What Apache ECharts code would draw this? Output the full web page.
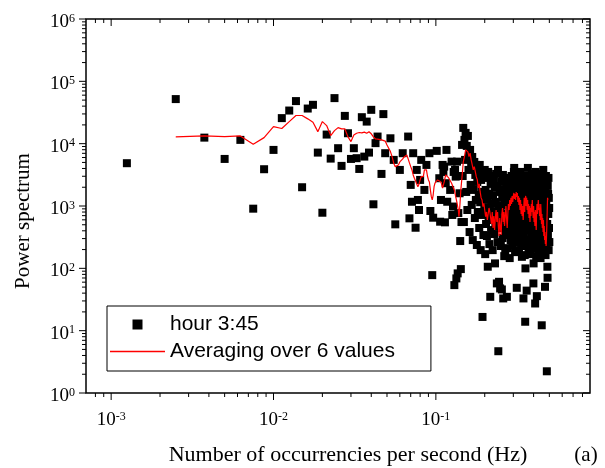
<!DOCTYPE html>
<html><head><meta charset="utf-8">
<script src="https://cdn.jsdelivr.net/npm/echarts@6/dist/echarts.min.js"></script>
<style>html,body{margin:0;padding:0;background:#fff}#c{width:605px;height:468px}</style>
</head><body><div id="c"></div>
<script>
// ---- axis extents and tick labels ----
const xMin = 7e-4, xMax = 0.89, yMin = 1, yMax = 1e6;
const xTickExps = [-3, -2, -1];
const yTickExps = [0, 1, 2, 3, 4, 5, 6];
const minorMantissas = [2, 3, 4, 5, 6, 7, 8, 9];
const seriesNames = ['hour 3:45', 'Averaging over 6 values'];
const xTitle = 'Number of occurrencies per second (Hz)';
const yTitle = 'Power spectrum';
const panelTag = '(a)';

// ---- power spectrum, hour 3:45: [frequency Hz, power] ----
const hour345 = [
[0.00125,4860],[0.0025,51900],[0.00375,12500],[0.005,5690],[0.00625,11500],[0.0075,906],[0.00875,3890],[0.01,7940],
[0.01125,25700],[0.0125,34000],[0.01375,48200],[0.015,2000],[0.01625,36600],[0.0175,42000],[0.01875,7190],[0.02,780],
[0.02125,14000],[0.0225,5760],[0.02375,53800],[0.025,8460],[0.02625,4400],[0.0275,27900],[0.02875,14700],[0.03,5690],
[0.03125,8460],[0.0325,5850],[0.03375,3930],[0.035,26600],[0.03625,6200],[0.0375,22600],[0.03875,7190],[0.04,34900],
[0.04125,1065],[0.0425,10200],[0.04375,13000],[0.04625,3270],[0.0475,29800],[0.04875,7030],[0.0525,12200],[0.055,5490],
[0.05625,508],[0.06,3790],[0.0625,7030],[0.0675,13000],[0.06875,634],[0.07,2180],[0.07125,1170],[0.0725,7030],
[0.075,448],[0.07625,3790],[0.0775,1250],[0.07875,863],[0.08,2620],[0.08125,5490],[0.085,1810],[0.0875,4560],
[0.09125,7030],[0.0925,831],[0.095,77.8],[0.09625,649],
[0.10125,7660],[0.105,2790],[0.10625,560],[0.1075,1250],[0.11,4560],[0.11125,3520],[0.1125,4280],[0.11375,547],
[0.115,2320],[0.11625,7940],[0.1175,1170],[0.1225,1810],[0.125,5150],[0.12625,718],[0.1275,980],[0.12875,3520],
[0.13,53.8],[0.13125,3790],[0.1325,2960],[0.13375,68.9],[0.135,5150],[0.13625,83],[0.1375,770],[0.14,1600],
[0.14125,274],[0.1425,97.2],
[0.1438,553],[0.145,9550],[0.1463,3030],[0.1475,17900],[0.1488,553],[0.15,11500],[0.1513,5490],[0.1525,14900],
[0.1538,1680],[0.155,9200],[0.1563,863],[0.1575,13300],[0.1588,3790],[0.16,6590],[0.1613,382],[0.1625,7940],
[0.1638,2180],[0.165,4860],[0.1663,1040],[0.1675,6120],[0.1688,284],[0.17,4080],[0.1713,1810],[0.1725,5090],
[0.1738,641],[0.175,3150],[0.1763,1250],[0.1775,4560],[0.1788,237],[0.18,2430],[0.1813,802],[0.1825,3520],
[0.1838,1500],[0.185,444],[0.1863,4560],[0.1875,1150],[0.1888,196],[0.19,2620],[0.1913,718],[0.1925,1680],
[0.1938,16.6],[0.195,3150],[0.1963,342],[0.1975,1350],[0.1988,929],[0.2,3790],
[0.2013,169],[0.2025,1810],[0.2038,514],[0.205,2820],[0.2063,330],[0.2075,1250],[0.2088,106],[0.21,3520],
[0.2113,690],[0.2125,1560],[0.2138,245],[0.215,929],[0.2163,34.9],[0.2175,2260],[0.2188,411],[0.22,1080],
[0.2213,3030],[0.2225,596],[0.2238,196],[0.225,1450],[0.2263,802],[0.2275,2620],[0.2288,355],[0.23,1950],
[0.2313,120],[0.2325,478],[0.2338,1160],[0.235,3270],[0.2363,718],[0.2375,57.3],[0.2388,2100],[0.24,264],
[0.2413,3790],[0.2425,4.68],[0.2438,1000],[0.245,60.8],[0.2463,553],[0.2475,1680],[0.2488,47.6],[0.25,863],
[0.2513,228],[0.2525,2430],[0.2538,444],[0.255,45.8],[0.2563,1350],[0.2575,306],[0.2588,3150],[0.26,32.9],
[0.2613,641],[0.2625,1810],[0.2638,157],[0.265,1040],[0.2663,2820],[0.2675,174],[0.2688,382],[0.27,1500],
[0.2713,745],[0.2725,2260],[0.2738,34.9],[0.275,495],[0.2763,1250],[0.2775,211],[0.2788,2030],[0.28,929],
[0.2813,342],[0.2825,1680],[0.2838,596],[0.285,146],[0.2863,2430],[0.2875,1080],[0.2888,284],[0.29,1950],
[0.2913,690],[0.2925,3030],[0.2938,444],[0.295,1250],[0.2963,237],[0.2975,2620],[0.2988,802],[0.3,1450],
[0.3013,411],[0.3025,3520],[0.3038,4080],[0.305,553],[0.3063,1160],[0.3075,182],[0.3088,2260],[0.31,863],
[0.3113,330],[0.3125,1810],[0.3138,641],[0.315,48.7],[0.3163,2820],[0.3175,1000],[0.3188,264],[0.32,1560],
[0.3213,478],[0.3225,2100],[0.3238,745],[0.325,196],[0.3263,3270],[0.3275,1350],[0.3288,382],[0.33,929],
[0.3313,3520],[0.3325,596],[0.3338,1680],[0.335,228],[0.3363,1080],[0.3375,2430],[0.3388,153],[0.34,514],
[0.3413,1250],[0.3425,306],[0.3438,2820],[0.345,802],[0.3463,32.9],[0.3475,1450],[0.3488,355],[0.35,1950],
[0.3513,690],[0.3525,163],[0.3538,1040],[0.355,13.9],[0.3563,99.8],[0.3575,2620],[0.3588,444],[0.36,1160],
[0.3613,3030],[0.3625,43.9],[0.3638,641],[0.365,1810],[0.3663,245],[0.3675,863],[0.3688,4080],[0.37,411],
[0.3713,1560],[0.3725,196],[0.3738,2260],[0.375,553],[0.3763,1000],[0.3775,284],[0.3788,1350],[0.38,2820],
[0.3813,478],[0.3825,745],[0.3838,169],[0.385,2100],[0.3863,929],[0.3875,342],[0.3888,1680],[0.39,3270],
[0.3913,596],[0.3925,211],[0.3938,1250],[0.395,2430],[0.3963,382],[0.3975,802],[0.3988,57.3],[0.4,120],
[0.4013,1450],[0.4025,514],[0.4038,2620],[0.405,264],[0.4063,1080],[0.4075,1950],[0.4088,27.3],[0.41,690],
[0.4113,3520],[0.4125,444],[0.4138,1160],[0.415,157],[0.4163,2260],[0.4175,641],[0.4188,35.8],[0.42,1810],
[0.4213,330],[0.4225,1000],[0.4238,2820],[0.425,237],[0.4263,863],[0.4275,1560],[0.4288,495],[0.43,3030],
[0.4313,182],[0.4325,1250],[0.4338,745],[0.435,2100],[0.4363,306],[0.4375,1040],[0.4388,2430],[0.44,553],
[0.4413,146],[0.4425,1350],[0.4438,929],[0.445,3270],[0.4463,411],[0.4475,1680],[0.4488,12.2],[0.45,641],
[0.4513,2620],[0.4525,228],[0.4538,1080],[0.455,1950],[0.4563,355],[0.4575,802],[0.4588,3790],[0.46,478],
[0.4613,1450],[0.4625,196],[0.4638,2260],[0.465,690],[0.4663,1160],[0.4675,284],[0.4688,2820],[0.47,50.5],
[0.4713,596],[0.4725,1810],[0.4738,163],[0.475,1000],[0.4763,3030],[0.4775,411],[0.4788,1250],[0.48,245],
[0.4813,2430],[0.4825,2.23],[0.4838,863],[0.485,514],[0.4863,106],[0.4875,70.5],[0.4888,2100],[0.49,330],
[0.4913,1560],[0.4925,745],[0.4938,2820],[0.495,196],[0.4963,1350],[0.4975,444],[0.4988,929],[0.5,264]
];

// ---- running average over 6 values: [frequency Hz, power] ----
const avg6 = [
[0.0025,12850],[0.00375,13300],[0.005,13000],[0.00625,13300],[0.0075,9810],[0.00875,12500],[0.01,18800],[0.01125,17500],
[0.0125,22600],[0.01375,28300],[0.015,28300],[0.01625,25000],[0.0175,22100],[0.01875,15600],[0.02,22600],[0.02125,19500],
[0.0225,13500],[0.02375,16200],[0.025,18100],[0.02625,17300],[0.0275,17300],[0.02875,12850],[0.03,10800],[0.03125,13800],
[0.0325,14700],[0.03375,15100],[0.035,14900],[0.03625,15300],[0.0375,14700],[0.03875,15500],[0.04,14400],[0.04125,12850],
[0.0425,11900],[0.04375,11800],[0.045,11800],[0.04625,11500],[0.0475,10800],[0.04875,11000],[0.05,9550],[0.05125,8970],
[0.0525,7460],[0.05375,6200],[0.055,4860],[0.05625,4280],[0.0575,4030],[0.05875,4560],[0.06,5090],[0.06125,5150],
[0.0625,5690],[0.06375,6130],[0.065,6600],[0.06625,6600],[0.0675,5690],[0.06875,4910],[0.07,4280],[0.07125,3790],
[0.0725,3150],[0.07375,2790],[0.075,2520],[0.07625,2260],[0.0775,2040],[0.07875,2260],[0.08,2620],[0.08125,2960],
[0.0825,3150],[0.08375,2960],[0.085,3790],[0.08625,4030],[0.0875,3790],[0.08875,3030],[0.09,2620],[0.09125,2430],
[0.0925,1810],[0.09375,1410],[0.095,1250],[0.09625,1500],[0.0975,2040],[0.09875,2320],[0.1,2320],
[0.1025,2620],[0.105,2790],[0.1075,2430],[0.11,1930],[0.1125,2430],[0.115,3150],[0.1175,2960],[0.12,2820],
[0.1225,2620],[0.125,2320],[0.1275,2040],[0.13,1810],[0.1325,1410],[0.135,1120],[0.1375,863],[0.13875,673],
[0.14,863],[0.1425,1810],[0.145,2960],[0.1475,5090],[0.15,6200],[0.1525,7940],[0.155,8460],[0.1575,7380],
[0.16,6200],[0.1625,7030],[0.165,5490],[0.1675,4560],[0.17,3790],[0.1725,4280],[0.175,4080],[0.1775,2930],
[0.18,2620],[0.1825,1950],[0.185,2260],[0.1875,1680],[0.19,1350],[0.1925,1250],[0.195,975],[0.1975,1100],
[0.2,863],[0.2025,673],[0.205,802],[0.2075,596],[0.21,745],[0.2125,929],[0.215,802],[0.2175,641],
[0.22,514],[0.2225,802],[0.225,444],[0.2275,690],[0.23,411],[0.2325,641],[0.235,863],[0.2375,553],
[0.24,802],[0.2425,478],[0.245,330],[0.2475,641],[0.25,444],[0.2525,342],[0.255,745],[0.2575,929],
[0.26,553],[0.2625,802],[0.265,478],[0.2675,690],[0.27,1000],[0.2725,641],[0.275,444],[0.2775,745],
[0.28,1080],[0.2825,863],[0.285,1250],[0.2875,1000],[0.29,1350],[0.2925,1080],[0.295,1450],[0.2975,1160],
[0.3,1450],[0.3025,1620],[0.305,1300],[0.3075,1560],[0.31,1250],[0.3125,1680],[0.315,1400],[0.3175,1620],
[0.32,1160],[0.3225,1450],[0.325,1040],[0.3275,1350],[0.33,863],[0.3325,1250],[0.335,745],[0.3375,1080],
[0.34,690],[0.3425,1000],[0.345,596],[0.3475,929],[0.35,1350],[0.3525,802],[0.355,1250],[0.3575,1450],
[0.36,1000],[0.3625,1350],[0.365,863],[0.3675,1250],[0.37,745],[0.3725,1080],[0.375,641],[0.3775,1000],
[0.38,553],[0.3825,929],[0.385,690],[0.3875,1080],[0.39,802],[0.3925,1250],[0.395,863],[0.3975,641],
[0.4,1000],[0.4025,553],[0.405,802],[0.4075,478],[0.41,863],[0.4125,641],[0.415,411],[0.4175,802],
[0.42,1080],[0.4225,745],[0.425,1000],[0.4275,1250],[0.43,863],[0.4325,1080],[0.435,690],[0.4375,929],
[0.44,596],[0.4425,1080],[0.445,802],[0.4475,514],[0.45,745],[0.4525,444],[0.455,641],[0.4575,382],
[0.46,596],[0.4625,330],[0.465,478],[0.4675,284],[0.47,382],[0.4725,245],[0.475,330],[0.4775,228],
[0.48,306],[0.4825,478],[0.485,802],[0.4875,1350],[0.49,1250]
];

// ---- tick values (major from label exponents, minor at 2..9 per decade) ----
const xMajor = xTickExps.map(e => Math.pow(10, e));
const yMajor = yTickExps.map(e => Math.pow(10, e));
const xMinor = [], yMinor = [];
for (let e = -4; e <= 0; e++) minorMantissas.forEach(m => { const v = m * Math.pow(10, e); if (v > xMin && v < xMax) xMinor.push(v); });
for (let e = 0; e < 6; e++) minorMantissas.forEach(m => yMinor.push(m * Math.pow(10, e)));

const SERIF = '"Liberation Serif", "Times New Roman", serif';
const SANS = '"Liberation Sans", Arial, sans-serif';
const MAJ = 7, MIN = 4;

const richLabel = {
  b: { fontFamily: SERIF, fontSize: 19, color: '#000' },
  s: { fontFamily: SERIF, fontSize: 12, color: '#000', verticalAlign: 'top' }
};
const expFormatter = v => '{b|10}{s|' + Math.round(Math.log10(v)) + '}';

const chart = echarts.init(document.getElementById('c'), null, { renderer: 'canvas' });
chart.setOption({
  animation: false,
  backgroundColor: '#fff',
  grid: { left: 86, right: 15, top: 19, bottom: 75, show: true, borderColor: '#000', borderWidth: 1.5, backgroundColor: 'transparent' },
  xAxis: {
    type: 'log', logBase: 10, min: xMin, max: xMax,
    axisLine: { show: false }, axisTick: { show: false }, splitLine: { show: false }, minorTick: { show: false },
    axisLabel: { formatter: expFormatter, rich: richLabel, margin: 18, showMinLabel: false, showMaxLabel: false }
  },
  yAxis: {
    type: 'log', logBase: 10, min: yMin, max: yMax,
    axisLine: { show: false }, axisTick: { show: false }, splitLine: { show: false }, minorTick: { show: false },
    axisLabel: { formatter: expFormatter, rich: richLabel, margin: 11, padding: [6, 0, 0, 0] }
  },
  legend: {
    orient: 'vertical', left: 107, top: 306,
    data: [
      { name: seriesNames[0], icon: 'path://M0,0L10,0L10,10L0,10Z', itemStyle: { color: '#000', opacity: 1 } },
      { name: seriesNames[1], icon: 'path://M0,0L55,0L55,1.3L0,1.3Z', itemStyle: { color: '#ff0000', opacity: 1 } }
    ],
    itemWidth: 55, itemHeight: 10, itemGap: 6, symbolKeepAspect: true,
    padding: [8, 36, 9, 3], borderColor: '#000', borderWidth: 1, borderRadius: 0,
    backgroundColor: '#fff', selectedMode: false,
    textStyle: { fontFamily: SANS, fontSize: 21, color: '#000' }
  },
  graphic: [
    { type: 'text', x: 348, y: 455, style: { text: xTitle, font: '22px ' + SERIF, fill: '#000', align: 'center', verticalAlign: 'middle', textAlign: 'center', textVerticalAlign: 'middle' } },
    { type: 'text', x: 586, y: 455, style: { text: panelTag, font: '21px ' + SERIF, fill: '#000', align: 'center', verticalAlign: 'middle', textAlign: 'center', textVerticalAlign: 'middle' } },
    { type: 'text', x: 23, y: 221, rotation: Math.PI / 2, style: { text: yTitle, font: '21px ' + SERIF, fill: '#000', align: 'center', verticalAlign: 'middle', textAlign: 'center', textVerticalAlign: 'middle' } }
  ],
  series: [
    {
      type: 'custom', name: 'xticks', silent: true, clip: false, z: 5,
      data: xMajor.map(v => [v, yMin, MAJ]).concat(xMinor.map(v => [v, yMin, MIN])),
      renderItem: (params, api) => {
        const v = api.value(0), L = api.value(2);
        const b = api.coord([v, yMin]), t = api.coord([v, yMax]);
        return { type: 'group', children: [
          { type: 'line', shape: { x1: b[0], y1: b[1], x2: b[0], y2: b[1] + L }, style: { stroke: '#000', lineWidth: 1 } },
          { type: 'line', shape: { x1: t[0], y1: t[1], x2: t[0], y2: t[1] + L }, style: { stroke: '#000', lineWidth: 1 } }
        ]};
      }
    },
    {
      type: 'custom', name: 'yticks', silent: true, clip: false, z: 5,
      data: yMajor.map(v => [xMin, v, MAJ]).concat(yMinor.map(v => [xMin, v, MIN])),
      renderItem: (params, api) => {
        const v = api.value(1), L = api.value(2);
        const l = api.coord([xMin, v]), r = api.coord([xMax, v]);
        return { type: 'group', children: [
          { type: 'line', shape: { x1: l[0] - L, y1: l[1], x2: l[0], y2: l[1] }, style: { stroke: '#000', lineWidth: 1 } },
          { type: 'line', shape: { x1: r[0] - L, y1: r[1], x2: r[0], y2: r[1] }, style: { stroke: '#000', lineWidth: 1 } }
        ]};
      }
    },
    {
      type: 'scatter', name: seriesNames[0], data: hour345,
      symbol: 'rect', symbolSize: 8, itemStyle: { color: '#000', opacity: 1 }, z: 2
    },
    {
      type: 'line', name: seriesNames[1], data: avg6, symbol: 'none', showSymbol: false,
      lineStyle: { color: '#ff0000', width: 1.2 }, itemStyle: { color: '#ff0000' }, z: 3
    }
  ]
});
</script>
</body></html>
